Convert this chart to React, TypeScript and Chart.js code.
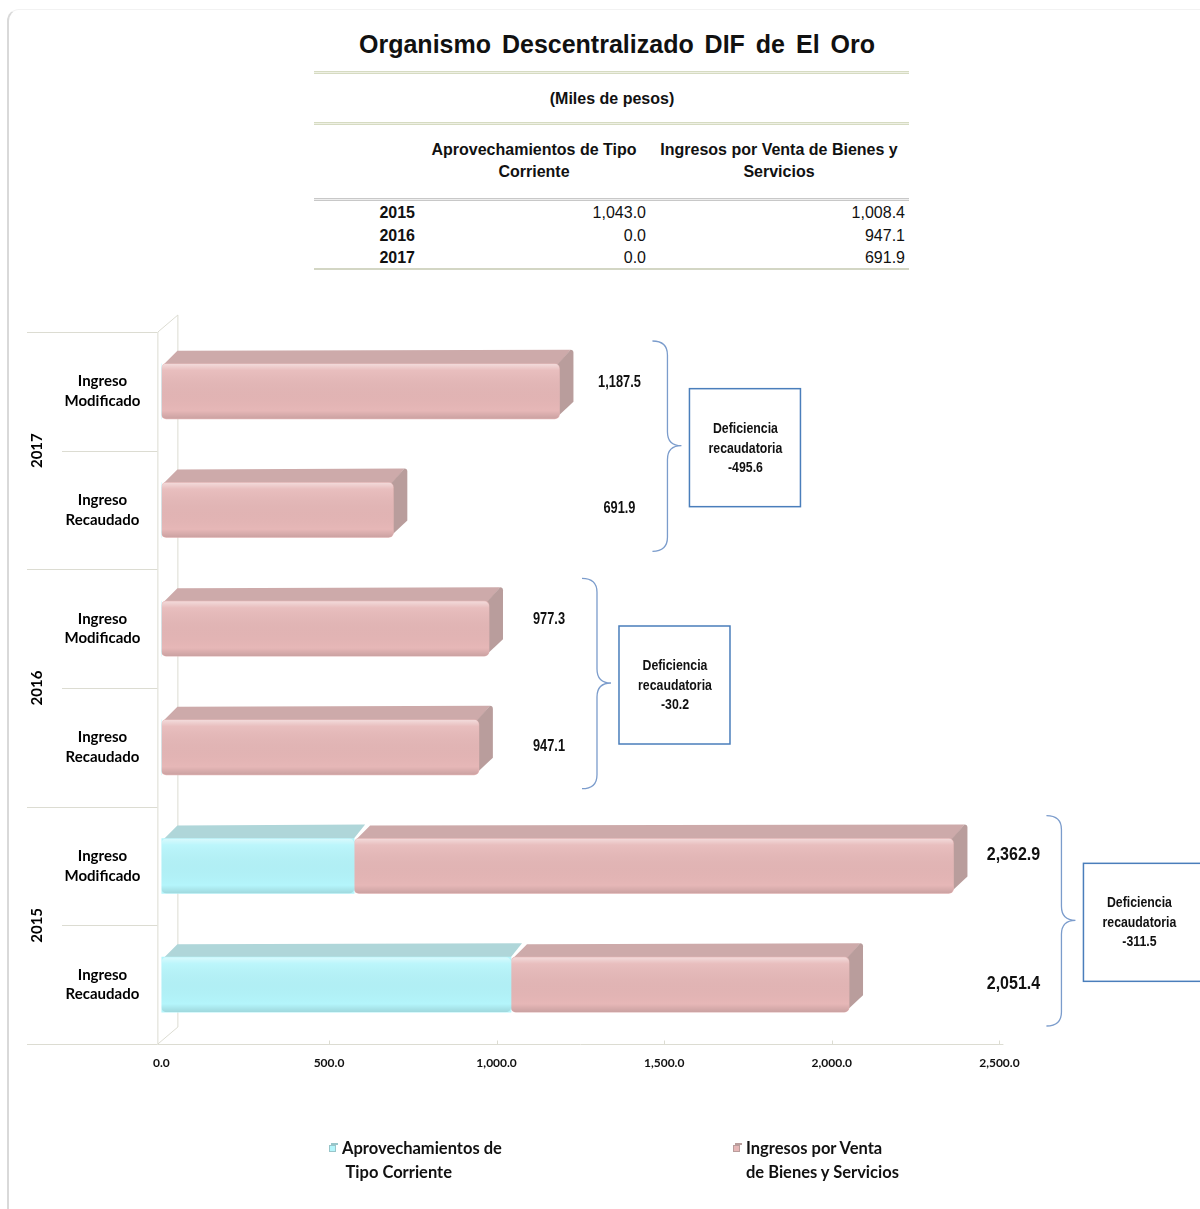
import React, { useEffect, useRef } from "react";
import { Chart, registerables } from "chart.js";

Chart.register(...registerables);

// ---------- data ----------
const rowLabels: string[][] = [
  ["Ingreso", "Modificado"],
  ["Ingreso", "Recaudado"],
  ["Ingreso", "Modificado"],
  ["Ingreso", "Recaudado"],
  ["Ingreso", "Modificado"],
  ["Ingreso", "Recaudado"],
];
const groupYears = ["2017", "2016", "2015"];
const aprovechamientos = [0, 0, 0, 0, 575.0, 1043.0];
const ventas = [1187.5, 691.9, 977.3, 947.1, 1787.9, 1008.4];
const deficiencias = [-495.6, -30.2, -311.5];
const xTicks = [0, 500, 1000, 1500, 2000, 2500];
const seriesNames = ["Aprovechamientos de Tipo Corriente", "Ingresos por Venta de Bienes y Servicios"];

const tableYears = ["2015", "2016", "2017"];
const tableAprov = [1043.0, 0.0, 0.0];
const tableVentas = [1008.4, 947.1, 691.9];

// ---------- styles ----------
const NARROW = "'Liberation Sans Narrow', 'Arial Narrow', 'Liberation Sans', Arial, sans-serif";
const ARIAL = "'Liberation Sans', Arial, sans-serif";
const CAL = "Lato, 'Open Sans', sans-serif";
const FRONT = ["#b4f5fb", "#e6b7b7"];
const TOP = ["#afd6d9", "#cdaaaa"];
const SIDE = ["#98c5c9", "#b99d9c"];
const DX = 14;
const DY = 14;

const fmt = (v: number) =>
  v.toLocaleString("en-US", { minimumFractionDigits: 1, maximumFractionDigits: 1 });

function nText(ctx: CanvasRenderingContext2D, s: string, x: number, y: number, sx: number) {
  ctx.save();
  ctx.translate(x, y);
  ctx.scale(sx, 1);
  ctx.fillText(s, 0, 0);
  ctx.restore();
}

const threeD = {
  id: "threeD",
  beforeDatasetsDraw(chart: any) {
    const ctx = chart.ctx;
    const sets = chart.data.datasets;
    sets.forEach((ds: any, k: number) => {
      const meta = chart.getDatasetMeta(k);
      meta.data.forEach((el: any, i: number) => {
        const { x, y, base, height } = el.getProps(["x", "y", "base", "height"], true);
        const l = Math.min(x, base);
        const r = Math.max(x, base);
        if (r - l < 1) return;
        const t = y - height / 2;
        const b = y + height / 2;
        ctx.save();
        ctx.fillStyle = TOP[k];
        ctx.beginPath();
        ctx.moveTo(l + 2, t + 1);
        ctx.lineTo(l + 2 + DX, t - DY + 1);
        ctx.lineTo(r + DX - 3, t - DY);
        ctx.lineTo(r - 1, t + 1);
        ctx.closePath();
        ctx.fill();
        let last = true;
        for (let j = k + 1; j < sets.length; j++) if ((sets[j].data[i] as number) > 0) last = false;
        if (last) {
          ctx.fillStyle = SIDE[k];
          ctx.beginPath();
          ctx.moveTo(r - 2, t + 1);
          ctx.lineTo(r + DX - 3, t - DY);
          ctx.quadraticCurveTo(r + DX, t - DY, r + DX, t - DY + 3);
          ctx.lineTo(r + DX, b - DY - 3);
          ctx.lineTo(r - 2, b - 2);
          ctx.closePath();
          ctx.fill();
        }
        ctx.restore();
      });
    });
  },
  afterDatasetsDraw(chart: any) {
    const ctx = chart.ctx;
    chart.data.datasets.forEach((ds: any, k: number) => {
      const meta = chart.getDatasetMeta(k);
      meta.data.forEach((el: any) => {
        const { x, y, base, height } = el.getProps(["x", "y", "base", "height"], true);
        const l = Math.min(x, base);
        const r = Math.max(x, base);
        if (r - l < 1) return;
        const t = y - height / 2;
        const b = y + height / 2;
        ctx.save();
        ctx.beginPath();
        (ctx as any).roundRect(l, t, r - l, b - t, 5);
        ctx.clip();
        const g = ctx.createLinearGradient(0, t, 0, b);
        g.addColorStop(0, "rgba(255,255,255,0.5)");
        g.addColorStop(0.12, "rgba(255,255,255,0.1)");
        g.addColorStop(0.85, "rgba(0,0,0,0)");
        g.addColorStop(1, "rgba(0,0,0,0.12)");
        ctx.fillStyle = g;
        ctx.fillRect(l, t, r - l, b - t);
        ctx.restore();
      });
    });
  },
};

const frame = {
  id: "frame",
  beforeDatasetsDraw(chart: any) {
    const ctx = chart.ctx;
    const area = chart.chartArea;
    const xs = chart.scales.x;
    const step = (area.bottom - area.top) / rowLabels.length;
    const wx = area.left - 4;
    ctx.save();
    ctx.strokeStyle = "#dcdcd2";
    ctx.lineWidth = 1;
    for (let k = 0; k <= rowLabels.length; k++) {
      const yy = Math.round(area.top + k * step) + 0.5;
      ctx.beginPath();
      ctx.moveTo(k % 2 === 0 ? 27 : 62, yy);
      ctx.lineTo(wx, yy);
      ctx.stroke();
    }
    ctx.beginPath();
    ctx.moveTo(wx + 0.5, area.top);
    ctx.lineTo(wx + 0.5, area.bottom);
    ctx.moveTo(wx + 0.5, area.top);
    ctx.lineTo(wx + 20.5, area.top - 17);
    ctx.lineTo(wx + 20.5, area.bottom - 17);
    ctx.lineTo(wx + 0.5, area.bottom);
    ctx.stroke();
    const fy = Math.round(area.bottom) + 0.5;
    ctx.beginPath();
    ctx.moveTo(wx, fy);
    ctx.lineTo(xs.getPixelForValue(xTicks[xTicks.length - 1]) + 4, fy);
    xTicks.forEach((v, i) => {
      if (i === 0) return;
      const px = Math.round(xs.getPixelForValue(v)) + 0.5;
      ctx.moveTo(px, fy);
      ctx.lineTo(px, fy - 4);
    });
    ctx.stroke();
    ctx.fillStyle = "#000";
    ctx.font = `bold 15px ${CAL}`;
    ctx.textAlign = "center";
    ctx.textBaseline = "middle";
    groupYears.forEach((yr, g) => {
      const cy = area.top + (2 * g + 1) * step;
      ctx.save();
      ctx.translate(37, cy);
      ctx.rotate(-Math.PI / 2);
      ctx.fillText(yr, 0, 0);
      ctx.restore();
    });
    ctx.restore();
  },
};

const notes = {
  id: "notes",
  afterDraw(chart: any) {
    const ctx = chart.ctx;
    const area = chart.chartArea;
    const xs = chart.scales.x;
    const ys = chart.scales.y;
    const step = (area.bottom - area.top) / rowLabels.length;
    ctx.save();
    groupYears.forEach((yr, g) => {
      const r0 = 2 * g;
      const tot0 = aprovechamientos[r0] + ventas[r0];
      const tot1 = aprovechamientos[r0 + 1] + ventas[r0 + 1];
      const px = xs.getPixelForValue(Math.max(tot0, tot1));
      const lx = px + 60;
      const big = g === 2;
      ctx.fillStyle = "#111";
      ctx.font = `bold ${big ? 18 : 16}px ${ARIAL}`;
      ctx.textAlign = "center";
      ctx.textBaseline = "middle";
      const sx = big ? 0.89 : 0.8;
      nText(ctx, fmt(tot0), lx, ys.getPixelForValue(r0) - (big ? 11 : 9), sx);
      nText(ctx, fmt(tot1), lx, ys.getPixelForValue(r0 + 1) - 1, sx);

      const gTop = area.top + r0 * step;
      const gBot = gTop + 2 * step;
      const gc = (gTop + gBot) / 2;
      const top = gTop + 9;
      const bot = gBot - 18;
      const tipY = gc - 5;
      const ex = lx + 33;
      const vx = lx + 48;
      const tx = lx + 62;
      const rr = 14;
      ctx.strokeStyle = "#7b9ccc";
      ctx.lineWidth = 1.3;
      ctx.beginPath();
      ctx.moveTo(ex, top);
      ctx.quadraticCurveTo(vx, top, vx, top + rr);
      ctx.lineTo(vx, tipY - rr);
      ctx.quadraticCurveTo(vx, tipY, tx, tipY);
      ctx.quadraticCurveTo(vx, tipY, vx, tipY + rr);
      ctx.lineTo(vx, bot - rr);
      ctx.quadraticCurveTo(vx, bot, ex, bot);
      ctx.stroke();

      const bx = lx + 70;
      const bw = big ? 120 : 111;
      const bh = 118;
      const by = gc - 3 - bh / 2;
      ctx.fillStyle = "#fff";
      ctx.fillRect(bx, by, bw, bh);
      ctx.strokeStyle = "#4a7ebb";
      ctx.lineWidth = 1.5;
      ctx.strokeRect(bx, by, bw, bh);
      ctx.fillStyle = "#111";
      ctx.font = `bold 15px ${ARIAL}`;
      const cx = bx + 56;
      nText(ctx, "Deficiencia", cx, gc - 22, 0.82);
      nText(ctx, "recaudatoria", cx, gc - 2, 0.82);
      nText(ctx, fmt(deficiencias[g]), cx, gc + 17, 0.82);
    });
    ctx.restore();
  },
};

function ChartCanvas() {
  const ref = useRef<HTMLCanvasElement | null>(null);
  useEffect(() => {
    if (!ref.current) return;
    const chart = new Chart(ref.current, {
      type: "bar",
      data: {
        labels: rowLabels,
        datasets: [
          {
            label: seriesNames[0],
            data: aprovechamientos,
            backgroundColor: FRONT[0],
            borderRadius: 5,
            borderSkipped: false,
            barThickness: 55,
          },
          {
            label: seriesNames[1],
            data: ventas,
            backgroundColor: FRONT[1],
            borderRadius: 5,
            borderSkipped: false,
            barThickness: 55,
          },
        ],
      },
      options: {
        indexAxis: "y",
        animation: false,
        responsive: false,
        devicePixelRatio: 1,
        layout: { padding: { left: 20, top: 332, right: 200.6, bottom: 135 } },
        scales: {
          x: {
            stacked: true,
            min: xTicks[0],
            max: xTicks[xTicks.length - 1],
            afterBuildTicks: (s: any) => {
              s.ticks = xTicks.map((v) => ({ value: v }));
            },
            afterFit: (s: any) => {
              s.height = 30;
            },
            ticks: {
              callback: (v: any) => fmt(Number(v)),
              font: { family: CAL, weight: "bold", size: 12 },
              color: "#111",
              padding: 12,
              maxRotation: 0,
            },
            grid: { display: false, drawTicks: false },
            border: { display: false },
          },
          y: {
            stacked: true,
            afterFit: (s: any) => {
              s.width = 141.4;
            },
            ticks: {
              crossAlign: "center",
              padding: 21,
              font: { family: CAL, weight: "bold", size: 15, lineHeight: 1.33 },
              color: "#000",
            },
            grid: { display: false, drawTicks: false },
            border: { display: false },
          },
        },
        plugins: {
          legend: { display: false },
          tooltip: { enabled: false },
        },
      } as any,
      plugins: [frame, threeD, notes],
    });
    return () => chart.destroy();
  }, []);
  return (
    <canvas
      ref={ref}
      width={1200}
      height={1209}
      style={{ position: "absolute", left: 0, top: 0, width: 1200, height: 1209 }}
    />
  );
}

const abs = (s: React.CSSProperties): React.CSSProperties => ({ position: "absolute", ...s });

function Rule({ top, kind }: { top: number; kind: "olive" | "gray" | "single" }) {
  if (kind === "single")
    return <div style={abs({ left: 314, top, width: 595, height: 2, background: "#d3d6c4" })} />;
  const c = kind === "olive" ? "#d6dbc2" : "#c8c8c8";
  return (
    <div
      style={abs({
        left: 314,
        top,
        width: 595,
        height: 1,
        borderTop: `1px solid ${c}`,
        borderBottom: `1px solid ${c}`,
        background: kind === "olive" ? "#eef0e4" : "#eeeeee",
      })}
    />
  );
}

function Marker({ left, top, front, topc }: { left: number; top: number; front: string; topc: string }) {
  return (
    <div style={abs({ left, top, width: 9, height: 9 })}>
      <div style={abs({ left: 0, top: 2, width: 7, height: 7, background: front, border: `1px solid ${topc}`, boxSizing: "border-box" })} />
      <div style={abs({ left: 2, top: 0, width: 7, height: 2, background: topc })} />
    </div>
  );
}

export default function App() {
  const narrow: React.CSSProperties = { fontFamily: NARROW, fontSize: 16, color: "#111", lineHeight: "22px" };
  return (
    <div style={abs({ left: 0, top: 0, width: 1200, height: 1209, overflow: "hidden", background: "#fff" })}>
      <div
        style={abs({
          left: 7,
          top: 9,
          width: 1220,
          height: 1230,
          borderLeft: "2px solid #d9d9d9",
          borderTop: "1px solid #f2f2f2",
          borderTopLeftRadius: 12,
        })}
      />
      <div
        style={abs({
          left: 317,
          top: 28,
          width: 600,
          textAlign: "center",
          fontFamily: ARIAL,
          fontWeight: "bold",
          fontSize: 25,
          lineHeight: "32px",
          wordSpacing: 4,
          color: "#111",
        })}
      >
        Organismo Descentralizado DIF de El Oro
      </div>
      <Rule top={71} kind="olive" />
      <div style={abs({ ...narrow, left: 412, top: 88, width: 400, textAlign: "center", fontWeight: "bold" })}>
        (Miles de pesos)
      </div>
      <Rule top={122} kind="olive" />
      <div style={abs({ ...narrow, left: 414, top: 139, width: 240, textAlign: "center", fontWeight: "bold" })}>
        Aprovechamientos de Tipo
        <br />
        Corriente
      </div>
      <div style={abs({ ...narrow, left: 654, top: 139, width: 250, textAlign: "center", fontWeight: "bold" })}>
        Ingresos por Venta de Bienes y
        <br />
        Servicios
      </div>
      <Rule top={198} kind="gray" />
      {tableYears.map((yr, i) => (
        <React.Fragment key={yr}>
          <div style={abs({ ...narrow, left: 315, top: 202 + i * 22.5, width: 100, textAlign: "right", fontWeight: "bold" })}>
            {yr}
          </div>
          <div style={abs({ ...narrow, left: 446, top: 202 + i * 22.5, width: 200, textAlign: "right" })}>
            {fmt(tableAprov[i])}
          </div>
          <div style={abs({ ...narrow, left: 705, top: 202 + i * 22.5, width: 200, textAlign: "right" })}>
            {fmt(tableVentas[i])}
          </div>
        </React.Fragment>
      ))}
      <Rule top={268} kind="single" />

      <ChartCanvas />

      <Marker left={329} top={1143} front={FRONT[0]} topc={SIDE[0]} />
      <div style={abs({ left: 342, top: 1136, fontFamily: CAL, fontWeight: "bold", fontSize: 16.5, lineHeight: "24px", color: "#111", whiteSpace: "pre" })}>
        {"Aprovechamientos de\n Tipo Corriente"}
      </div>
      <Marker left={733} top={1143} front={FRONT[1]} topc={SIDE[1]} />
      <div style={abs({ left: 746, top: 1136, fontFamily: CAL, fontWeight: "bold", fontSize: 16.5, lineHeight: "24px", color: "#111", whiteSpace: "pre" })}>
        {"Ingresos por Venta\nde Bienes y Servicios"}
      </div>
    </div>
  );
}
